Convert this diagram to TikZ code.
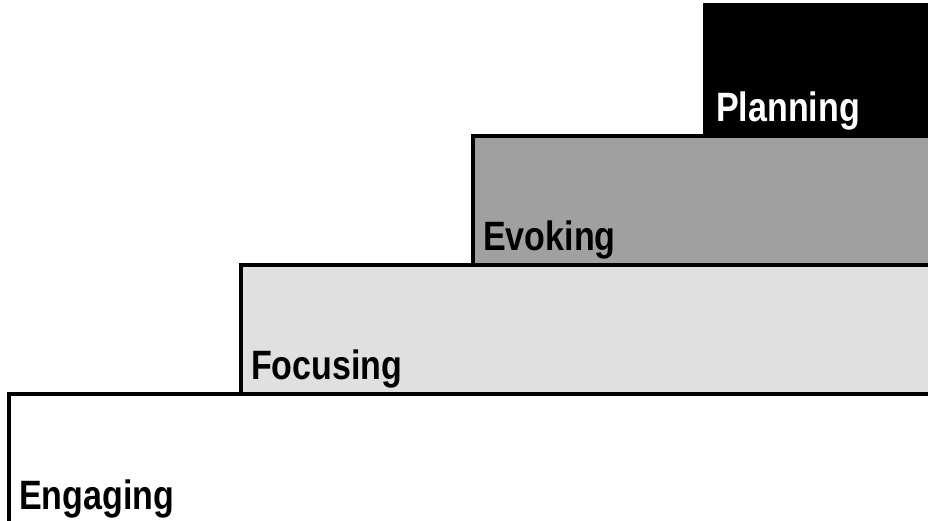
\documentclass[tikz,border=0pt]{standalone}
\usepackage{fontspec}
\setmainfont{Liberation Sans}[FakeStretch=0.83]
\definecolor{lightfill}{HTML}{E0E0E0}
\definecolor{midfill}{HTML}{A0A0A0}
\tikzset{
  stepbox/.style={draw=black, line width=3.2pt},
  steplabel/.style={anchor=base west, inner sep=0pt, font=\fontsize{41}{43}\selectfont\bfseries}
}
\begin{document}
\begin{tikzpicture}[x=1pt,y=-1pt]
\useasboundingbox (0,0) rectangle (928,521);
\clip (0,0) rectangle (928,521);
\fill[white] (0,0) rectangle (928,521);
\draw[stepbox, fill=white] (9,394) rectangle (940,540);
\draw[stepbox, fill=lightfill] (241,265) rectangle (940,394);
\draw[stepbox, fill=midfill] (473,136) rectangle (940,265);
\draw[stepbox, fill=black] (705,5) rectangle (940,136);
\node[steplabel] (engaging) at (19,509) {Engaging};
\node[steplabel] (focusing) at (251,379) {Focusing};
\node[steplabel] (evoking) at (483,251) {Evoking};
\node[steplabel, text=white] (planning) at (716,122) {Planning};
\end{tikzpicture}
\end{document}
